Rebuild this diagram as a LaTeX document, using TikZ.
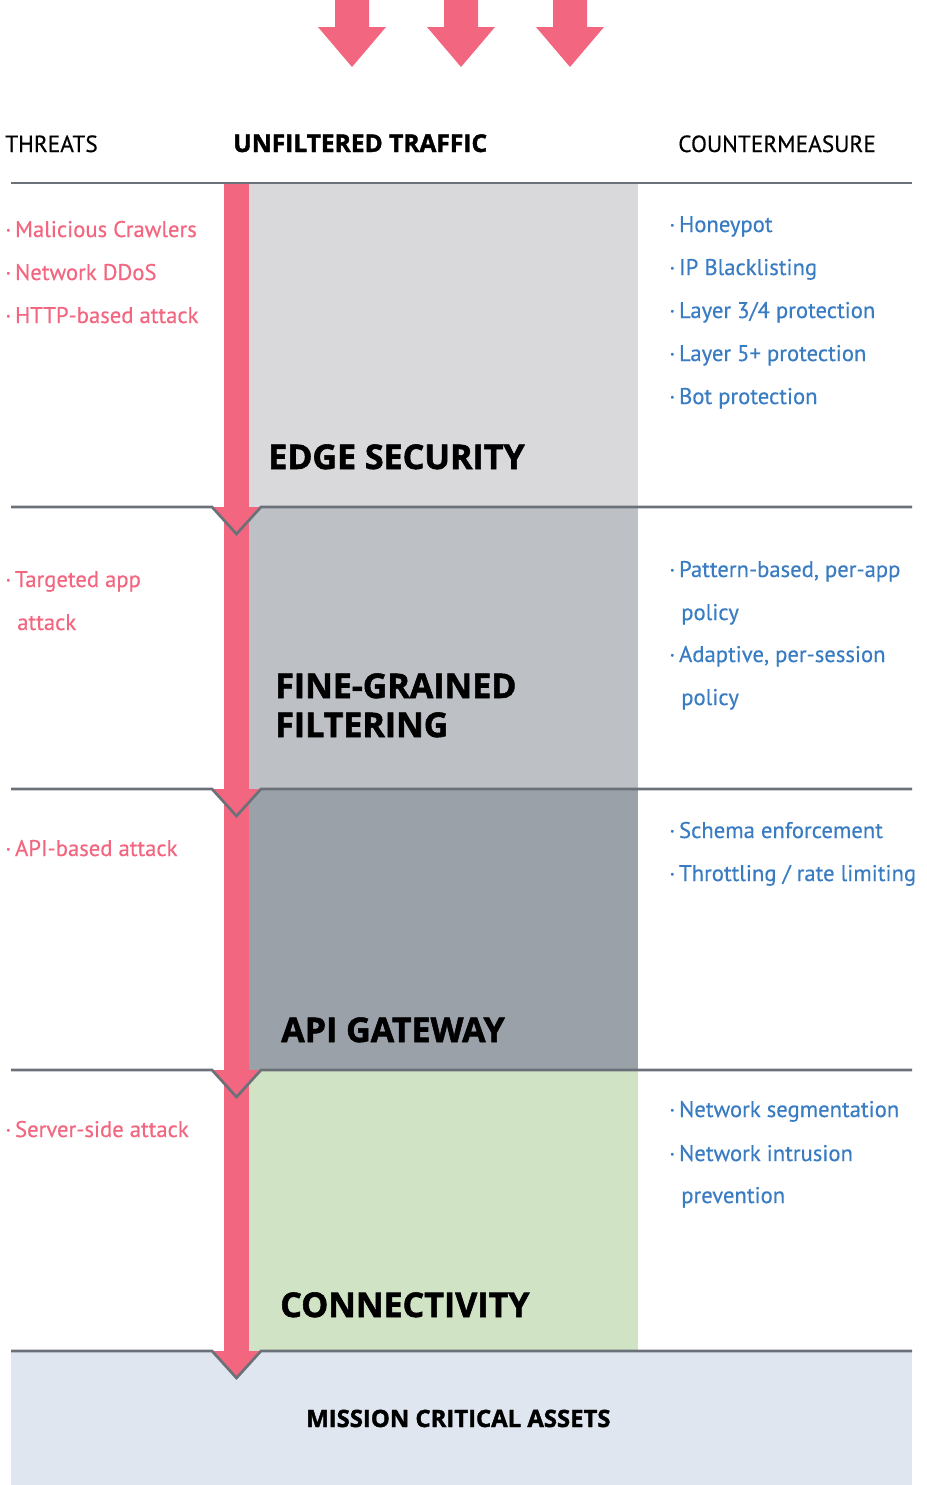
\documentclass[tikz,border=0pt]{standalone}
\usepackage{fontspec}
\setmainfont{PT Sans}[FakeBold=0.4]
\newfontfamily\headfont{Open Sans}[BoldFeatures={FakeBold=1.6}]
\usetikzlibrary{positioning}
\usepackage{xcolor}
\definecolor{threatred}{HTML}{F2667F}
\definecolor{cmblue}{HTML}{3A7CC2}
\definecolor{rulegray}{HTML}{6B7179}
\definecolor{edgegray}{HTML}{D9D9DC}
\definecolor{finegray}{HTML}{BDC1C6}
\definecolor{apigray}{HTML}{9AA1A9}
\definecolor{connectgreen}{HTML}{D0E4C5}
\definecolor{assetblue}{HTML}{DFE6F0}

\begin{document}
\begin{tikzpicture}[x=0.75pt, y=-0.75pt]
			\tikzstyle{threat} = [anchor=base west, inner sep=0, text=threatred, font=\fontsize{17}{20}\selectfont]
			\tikzstyle{counter} = [anchor=base west, inner sep=0, text=cmblue, font=\fontsize{17}{20}\selectfont]
			\tikzstyle{header} = [anchor=base west, inner sep=0, font=\fontsize{17.5}{20}\selectfont]
			\tikzstyle{layer} = [anchor=base west, inner sep=0, align=left, font=\headfont\bfseries\fontsize{25.5}{29}\selectfont]
			\tikzstyle{rule} = [draw=rulegray, line width=2pt]
			
			\useasboundingbox (0,0) rectangle (927,1485);
			
			% incoming traffic
			\foreach \x in {352, 461, 570}
				\fill[threatred] (\x-17,0) -- (\x+17,0) -- (\x+17,27) -- (\x+34,27) -- (\x,67) -- (\x-34,27) -- (\x-17,27) -- cycle;
			
			% layers
			\fill[edgegray] 	(249,183) rectangle (638,507);
			\fill[finegray] 	(249,507) rectangle (638,789);
			\fill[apigray] 		(249,789) rectangle (638,1070);
			\fill[connectgreen] (249,1070) rectangle (638,1351);
			\fill[assetblue] 	(11,1351) rectangle (912,1485);
			
			% traffic bar
			\fill[threatred] (224,183) rectangle (249,1351);
			\foreach \y in {507, 789, 1070, 1351}
			{
				\fill[threatred] (212,\y) -- (261,\y) -- (236.5,\y+27) -- cycle;
				\draw[rule] (11,\y) -- (212,\y) -- (236.5,\y+27) -- (261,\y) -- (912,\y);
			}
			\draw[rule] (11,183) -- (912,183);
			
			\node[header] 	at (5, 152) 	(threats)	{THREATS};
			\node[header, font=\headfont\bfseries\fontsize{18.4}{20}\selectfont] at (233, 152) (traffic) {UNFILTERED TRAFFIC};
			\node[header] 	at (678, 152) 	(counters)	{COUNTERMEASURE};
			
			\node[layer] 	at (268, 469) 	(edge)		{EDGE SECURITY};
			\node[layer] 	at (275, 698) 	(fine)		{FINE-GRAINED};
			\node[layer] 	at (275, 737) 	(fine2)		{FILTERING};
			\node[layer] 	at (281, 1042) 	(api)		{API GATEWAY};
			\node[layer] 	at (280, 1317) 	(conn)		{CONNECTIVITY};
			\node[layer, font=\headfont\bfseries\fontsize{17.9}{20}\selectfont] at (306, 1427) (assets) {MISSION CRITICAL ASSETS};
			
			\node[threat] 	at (5, 237) 	(crawl)		{·\,Malicious Crawlers};
			\node[threat] 	at (5, 280) 	(ddos)		{·\,Network DDoS};
			\node[threat] 	at (5, 323) 	(http)		{·\,HTTP-based attack};
			\node[threat] 	at (5, 587) 	(target)	{·\,Targeted app};
			\node[threat] 	at (17, 630) 	(target2)	{attack};
			\node[threat] 	at (5, 856) 	(apiatk)	{·\,API-based attack};
			\node[threat] 	at (5, 1137) 	(server)	{·\,Server-side attack};
			
			\node[counter] 	at (669, 232) 	(honey)		{·\,Honeypot};
			\node[counter] 	at (669, 275) 	(black)		{·\,IP Blacklisting};
			\node[counter] 	at (669, 318) 	(layer34)	{·\,Layer 3/4 protection};
			\node[counter] 	at (669, 361) 	(layer5)	{·\,Layer 5+ protection};
			\node[counter] 	at (669, 404) 	(bot)		{·\,Bot protection};
			\node[counter] 	at (669, 577) 	(pattern)	{·\,Pattern-based, per-app};
			\node[counter] 	at (681, 620) 	(pattern2)	{policy};
			\node[counter] 	at (669, 662) 	(adapt)		{·\,Adaptive, per-session};
			\node[counter] 	at (681, 705) 	(adapt2)	{policy};
			\node[counter] 	at (669, 838) 	(schema)	{·\,Schema enforcement};
			\node[counter] 	at (669, 881) 	(throttle)	{·\,Throttling / rate limiting};
			\node[counter] 	at (669, 1117) 	(segment)	{·\,Network segmentation};
			\node[counter] 	at (669, 1161) 	(intrude)	{·\,Network intrusion};
			\node[counter] 	at (681, 1203) 	(intrude2)	{prevention};
\end{tikzpicture}
\end{document}
